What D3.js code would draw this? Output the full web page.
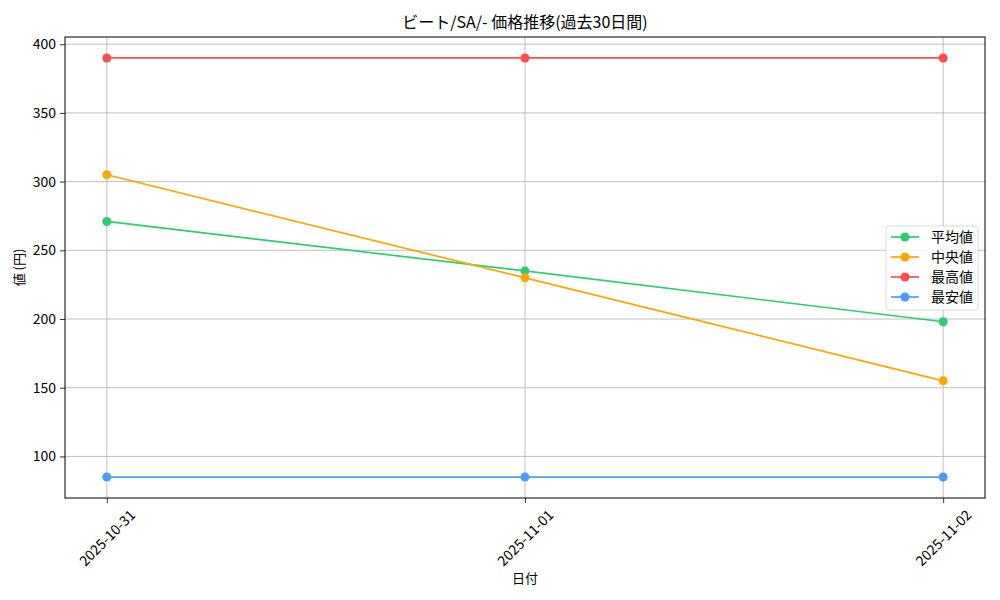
<!DOCTYPE html>
<html>
<head>
<meta charset="utf-8">
<script src="https://cdn.jsdelivr.net/npm/d3@7"></script>
<style>
  body { margin: 0; background: #fff; }
  text { font-family: "Noto Sans CJK JP", "DejaVu Sans", sans-serif; fill: #000; }
</style>
</head>
<body>
<div id="chart"></div>
<script>
  // data
  const dates = ["2025-10-31", "2025-11-01", "2025-11-02"];
  const avgValues = [271, 235, 198];
  const medianValues = [305, 230, 155];
  const maxValues = [390, 390, 390];
  const minValues = [85, 85, 85];
  const seriesNames = ["平均値", "中央値", "最高値", "最安値"];
  const seriesColors = ["#2ecc71", "#ffa500", "#ff4c4c", "#4c9bff"];
  const yTicks = [100, 150, 200, 250, 300, 350, 400];

  const series = [avgValues, medianValues, maxValues, minValues].map((vals, i) => ({
    name: seriesNames[i],
    color: seriesColors[i],
    values: vals.map((v, j) => ({ date: dates[j], value: v }))
  }));

  // plot area, matplotlib-like
  const margin = { top: 37, right: 15, bottom: 102, left: 65 };
  const width = 1000, height = 600;
  const innerW = width - margin.left - margin.right;
  const innerH = height - margin.top - margin.bottom;

  const svg = d3.select("#chart").append("svg")
    .attr("width", width)
    .attr("height", height);

  const g = svg.append("g")
    .attr("transform", `translate(${margin.left},${margin.top})`);

  // x: points with 5% margin of the data span on each side
  const x = d3.scalePoint()
    .domain(dates)
    .range([0, innerW])
    .padding(0.1);

  const allVals = series.flatMap(s => s.values.map(d => d.value));
  const lo = d3.min(allVals), hi = d3.max(allVals);
  const pad = (hi - lo) * 0.05;
  const y = d3.scaleLinear()
    .domain([lo - pad, hi + pad])
    .range([innerH, 0]);

  // grid
  g.append("g").selectAll("line")
    .data(yTicks)
    .enter().append("line")
    .attr("x1", 0).attr("x2", innerW)
    .attr("y1", d => y(d)).attr("y2", d => y(d))
    .attr("stroke", "#b0b0b0").attr("stroke-width", 0.8);

  g.append("g").selectAll("line")
    .data(dates)
    .enter().append("line")
    .attr("y1", 0).attr("y2", innerH)
    .attr("x1", d => x(d)).attr("x2", d => x(d))
    .attr("stroke", "#b0b0b0").attr("stroke-width", 0.8);

  // axes
  const xAxis = g.append("g")
    .attr("transform", `translate(0,${innerH})`)
    .call(d3.axisBottom(x).tickSize(5).tickPadding(4));
  xAxis.select(".domain").remove();
  xAxis.selectAll("line").attr("stroke", "#000").attr("stroke-width", 0.8);
  // rotated around the label centre, like matplotlib rotation=45
  xAxis.selectAll("text")
    .attr("font-size", 14)
    .attr("text-anchor", "middle")
    .attr("x", 0).attr("y", 0)
    .attr("dy", "0.35em")
    .attr("transform", "translate(0,40) rotate(-45)");

  const yAxis = g.append("g")
    .call(d3.axisLeft(y).tickValues(yTicks).tickSize(5).tickPadding(4));
  yAxis.select(".domain").remove();
  yAxis.selectAll("line").attr("stroke", "#000").attr("stroke-width", 0.8);
  yAxis.selectAll("text").attr("font-size", 14);

  // frame
  g.append("rect")
    .attr("width", innerW).attr("height", innerH)
    .attr("fill", "none").attr("stroke", "#000").attr("stroke-width", 1);

  // lines and markers
  const line = d3.line()
    .x(d => x(d.date))
    .y(d => y(d.value));

  const sg = g.selectAll(".series")
    .data(series)
    .enter().append("g")
    .attr("class", "series");

  sg.append("path")
    .attr("fill", "none")
    .attr("stroke", d => d.color)
    .attr("stroke-width", 1.7)
    .attr("d", d => line(d.values));

  sg.selectAll("circle")
    .data(d => d.values.map(v => ({ ...v, color: d.color })))
    .enter().append("circle")
    .attr("cx", d => x(d.date))
    .attr("cy", d => y(d.value))
    .attr("r", 4.5)
    .attr("fill", d => d.color);

  // titles
  svg.append("text")
    .attr("x", margin.left + innerW / 2)
    .attr("y", 28)
    .attr("text-anchor", "middle")
    .attr("font-size", 16)
    .text("ビート/SA/- 価格推移(過去30日間)");

  svg.append("text")
    .attr("x", margin.left + innerW / 2)
    .attr("y", 583)
    .attr("text-anchor", "middle")
    .attr("font-size", 13)
    .text("日付");

  svg.append("text")
    .attr("transform", `translate(24,${margin.top + innerH / 2}) rotate(-90)`)
    .attr("text-anchor", "middle")
    .attr("font-size", 13)
    .text("値 (円)");

  // legend
  const legend = g.append("g")
    .attr("transform", `translate(${innerW - 99},${189})`);

  legend.append("rect")
    .attr("width", 92).attr("height", 84)
    .attr("rx", 3)
    .attr("fill", "#fff").attr("fill-opacity", 0.8)
    .attr("stroke", "#d0d0d0").attr("stroke-width", 0.8);

  const items = legend.selectAll(".item")
    .data(series)
    .enter().append("g")
    .attr("transform", (d, i) => `translate(0,${11 + i * 20})`);

  items.append("line")
    .attr("x1", 5).attr("x2", 33)
    .attr("stroke", d => d.color).attr("stroke-width", 1.7);
  items.append("circle")
    .attr("cx", 19).attr("r", 4.5)
    .attr("fill", d => d.color);
  items.append("text")
    .attr("x", 45).attr("dy", "0.35em")
    .attr("font-size", 14)
    .text(d => d.name);
</script>
</body>
</html>
